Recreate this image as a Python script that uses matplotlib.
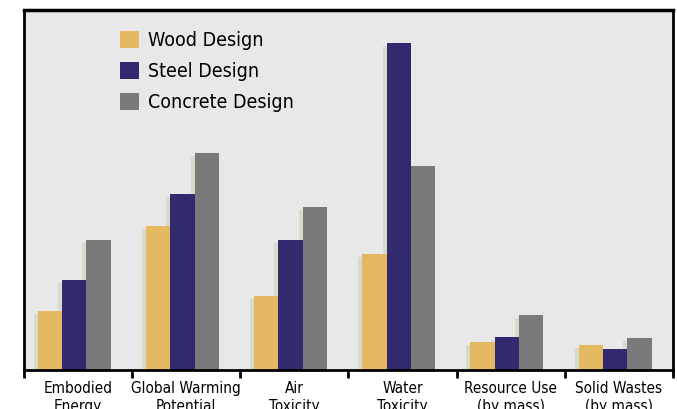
import matplotlib
matplotlib.use("Agg")
import matplotlib.pyplot as plt
import matplotlib.transforms as mtransforms
import numpy as np

categories = ["Embodied\nEnergy", "Global Warming\nPotential", "Air\nToxicity",
              "Water\nToxicity", "Resource Use\n(by mass)", "Solid Wastes\n(by mass)"]
wood = [59, 144, 74, 116, 28, 25]
steel = [90, 176, 130, 327, 33, 21]
concrete = [130, 217, 163, 204, 55, 32]
series_names = ["Wood Design", "Steel Design", "Concrete Design"]
colors = ["#e5b862", "#312a6f", "#7a7a7a"]
shadow_color = "#d6dbca"

plt.rcParams['font.family'] = ['DejaVu Sans']
plt.rcParams['font.stretch'] = 'condensed'

fig = plt.figure(figsize=(6.77, 4.09), dpi=100)
ax = fig.add_axes([24/677, 39/409, 649/677, 360/409])
ax.set_facecolor("#e8e8e8")

x = np.arange(len(categories))
w = 0.225
shadow_tr = mtransforms.offset_copy(ax.transData, fig=fig, x=-4, y=-3, units='dots')
for i, (vals, c) in enumerate(zip([wood, steel, concrete], colors)):
    pos = x + (i - 1) * w - 0.035
    ax.bar(pos, vals, w, color=shadow_color, transform=shadow_tr, zorder=1, linewidth=0)
for i, (vals, c, n) in enumerate(zip([wood, steel, concrete], colors, series_names)):
    pos = x + (i - 1) * w - 0.035
    ax.bar(pos, vals, w, color=c, zorder=2 + i * 0.01, linewidth=0, label=n)

ax.set_xlim(-0.5, len(categories) - 0.5)
ax.set_ylim(0, 360)
ax.set_yticks([])
ax.set_xticks(x)
ax.set_xticklabels(categories, fontsize=11, linespacing=1.25, stretch='condensed')
ax.tick_params(axis='x', which='major', length=0, pad=8)
ax.set_xticks(np.arange(-0.5, len(categories)), minor=True)
ax.tick_params(axis='x', which='minor', length=6, width=2, direction='out')
for s in ax.spines.values():
    s.set_linewidth(2)
    s.set_color("black")
ax.spines['top'].set_linewidth(2.5)

leg = ax.legend(loc='upper left', bbox_to_anchor=(0.121, 0.99), frameon=False,
                prop={'size': 14, 'stretch': 'condensed'},
                handlelength=0.95, handleheight=0.95, labelspacing=0.62,
                handletextpad=0.5)

fig.savefig("out.png", dpi=100)
